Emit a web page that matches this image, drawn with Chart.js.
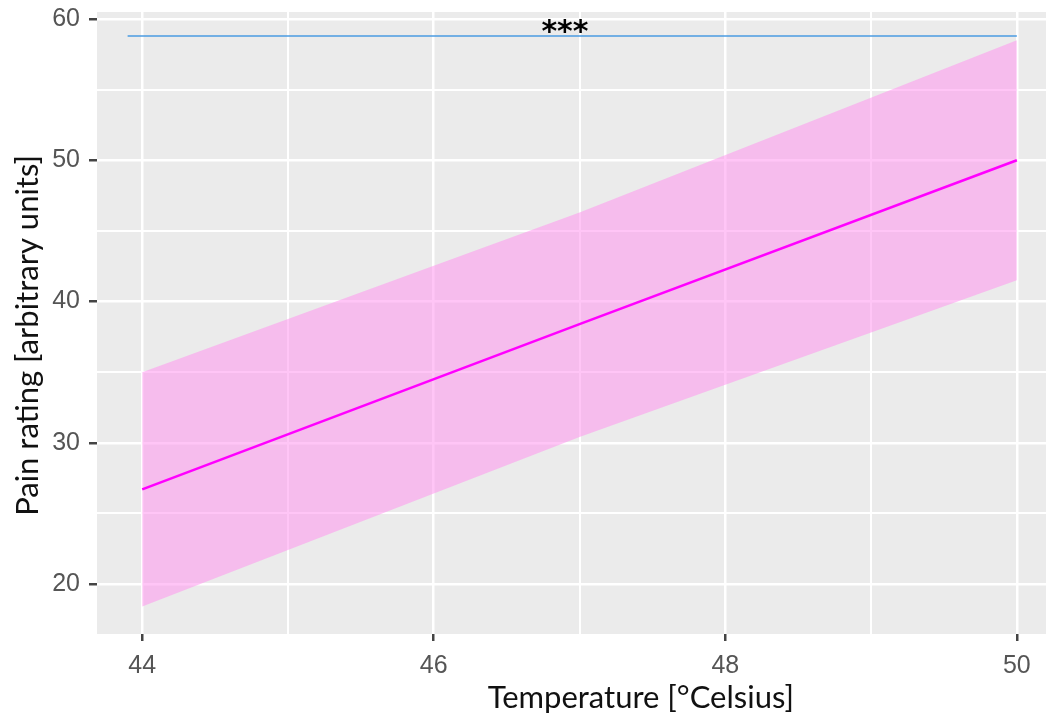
<!DOCTYPE html>
<html>
<head>
<meta charset="utf-8">
<script src="https://cdn.jsdelivr.net/npm/chart.js@4.4.1/dist/chart.umd.min.js"></script>
<style>
  html, body { margin: 0; padding: 0; background: #fff; }
  #wrap { width: 1052px; height: 718px; }
</style>
</head>
<body>
<div id="wrap"><canvas id="painChart" width="1052" height="718"></canvas></div>
<script>
// values
const temps = [44, 47, 50];
const fitRating = [26.7, 38.4, 50.0];
const upperCI = [35.0, 46.3, 58.5];
const lowerCI = [18.4, 30.4, 41.5];

const sigLineX = [43.9, 50];
const sigLineY = [58.8, 58.8];
const sigLabel = '***';
const sigLabelX = 46.9;
const sigLabelY = 59.4;

const xTicks = [44, 45, 46, 47, 48, 49, 50];
const xLabels = [44, 46, 48, 50];
const yTicks = [20, 25, 30, 35, 40, 45, 50, 55, 60];
const yLabels = [20, 30, 40, 50, 60];

const xTitle = 'Temperature [°Celsius]';
const yTitle = 'Pain rating [arbitrary units]';

function toPoints(xs, ys) {
    return xs.map((x, i) => ({ x: x, y: ys[i] }));
}

const tickFamily = '"Liberation Sans", Arial, sans-serif';
const titleFont = '31px Lato, "Open Sans", sans-serif';

// grey ggplot panel behind the grid
const panelBackground = {
    id: 'panelBackground',
    beforeDraw(chart) {
        const { ctx, chartArea: a } = chart;
        ctx.save();
        ctx.fillStyle = '#EBEBEB';
        ctx.fillRect(a.left, a.top, a.right - a.left, a.bottom - a.top);
        ctx.restore();
    }
};

// significance stars and axis titles
const extraText = {
    id: 'extraText',
    afterDatasetsDraw(chart) {
        const { ctx, scales } = chart;
        ctx.save();
        ctx.font = 'bold 30px "DejaVu Sans", sans-serif';
        ctx.fillStyle = '#000';
        ctx.textAlign = 'center';
        ctx.textBaseline = 'middle';
        ctx.fillText(sigLabel, scales.x.getPixelForValue(sigLabelX), scales.y.getPixelForValue(sigLabelY) + 6);
        ctx.restore();
    },
    afterDraw(chart) {
        const { ctx, chartArea: a } = chart;
        ctx.save();
        ctx.font = titleFont;
        ctx.fillStyle = '#111';
        ctx.textAlign = 'center';
        ctx.textBaseline = 'middle';
        ctx.fillText(xTitle, a.left + (a.right - a.left) * 0.573, 698);
        ctx.translate(28, a.top + (a.bottom - a.top) * 0.52);
        ctx.rotate(-Math.PI / 2);
        ctx.fillText(yTitle, 0, 0);
        ctx.restore();
    }
};

function isMajor(ctx, labels) {
    return ctx.tick && labels.includes(ctx.tick.value);
}

new Chart(document.getElementById('painChart'), {
    type: 'line',
    data: {
        datasets: [
            {
                // ribbon drawn at the back
                data: toPoints(temps, upperCI),
                fill: '+1',
                backgroundColor: 'rgba(255, 150, 238, 0.55)',
                borderWidth: 0,
                pointRadius: 0,
                order: 3
            },
            {
                data: toPoints(temps, lowerCI),
                fill: false,
                borderWidth: 0,
                pointRadius: 0,
                order: 2
            },
            {
                data: toPoints(temps, fitRating),
                fill: false,
                borderColor: '#FF00FF',
                borderWidth: 2.6,
                pointRadius: 0,
                order: 0
            },
            {
                data: toPoints(sigLineX, sigLineY),
                fill: false,
                borderColor: '#4A9BE2',
                borderWidth: 1.6,
                pointRadius: 0,
                order: 1
            }
        ]
    },
    options: {
        responsive: false,
        animation: false,
        layout: { padding: { left: 0, right: 6, top: 12, bottom: 0 } },
        plugins: {
            legend: { display: false },
            tooltip: { enabled: false }
        },
        scales: {
            x: {
                type: 'linear',
                min: 43.69,
                max: 50.2,
                afterBuildTicks: (s) => { s.ticks = xTicks.map(v => ({ value: v })); },
                afterFit: (s) => { s.height = 84; },
                border: { display: false },
                grid: {
                    color: '#FFFFFF',
                    lineWidth: (c) => isMajor(c, xLabels) ? 2.5 : 2,
                    tickColor: (c) => isMajor(c, xLabels) ? '#444' : 'rgba(0,0,0,0)',
                    tickLength: 7,
                    tickWidth: 2.5
                },
                ticks: {
                    autoSkip: false,
                    maxRotation: 0,
                    padding: 10,
                    color: '#555',
                    font: { family: tickFamily, size: 25 },
                    callback: (v) => xLabels.includes(v) ? String(v) : ''
                }
            },
            y: {
                min: 16.46,
                max: 60.5,
                afterBuildTicks: (s) => { s.ticks = yTicks.map(v => ({ value: v })); },
                afterFit: (s) => { s.width = 97; },
                border: { display: false },
                grid: {
                    color: '#FFFFFF',
                    lineWidth: (c) => isMajor(c, yLabels) ? 2.5 : 2,
                    tickColor: (c) => isMajor(c, yLabels) ? '#444' : 'rgba(0,0,0,0)',
                    tickLength: 8,
                    tickWidth: 2.5
                },
                ticks: {
                    autoSkip: false,
                    padding: 9,
                    color: '#555',
                    font: { family: tickFamily, size: 25, lineHeight: 0.1 },
                    callback: (v) => yLabels.includes(v) ? String(v) : ''
                }
            }
        }
    },
    plugins: [panelBackground, extraText]
});
</script>
</body>
</html>
